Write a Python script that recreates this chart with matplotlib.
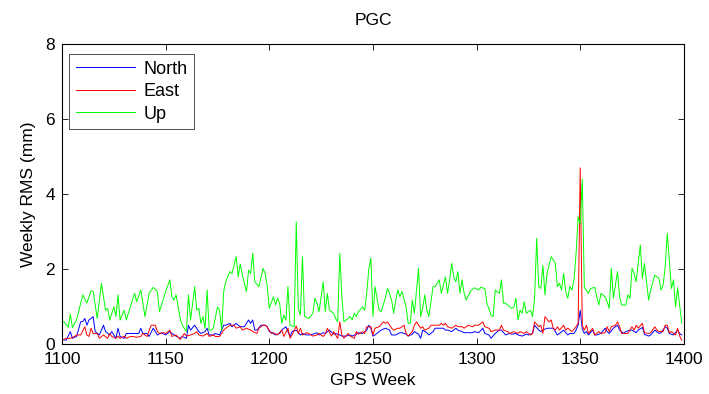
import matplotlib
matplotlib.use('Agg')
import matplotlib.pyplot as plt

plt.rcParams['font.family'] = ['Liberation Sans', 'DejaVu Sans']

# Up component (week, rms mm)
up_week = [1100, 1101, 1103, 1104, 1105, 1107, 1110, 1112, 1114, 1115, 1117, 1119, 1121, 1122, 1123,
           1125, 1126, 1127, 1128, 1130, 1131, 1134, 1135, 1136, 1138, 1140, 1142, 1144, 1146, 1147,
           1148, 1150, 1152, 1153, 1154, 1155, 1157, 1158, 1160, 1161, 1162, 1164, 1165, 1166, 1167,
           1168, 1169, 1170, 1171, 1172, 1173, 1175, 1176, 1177, 1178, 1179, 1181, 1182, 1184, 1185,
           1186, 1187, 1189, 1190, 1191, 1192, 1193, 1195, 1197, 1198, 1199, 1200, 1202, 1203, 1204,
           1205, 1206, 1207, 1208, 1209, 1210, 1212, 1213, 1214, 1215, 1216, 1217, 1219, 1221, 1222,
           1223, 1224, 1226, 1227, 1228, 1229, 1231, 1232, 1233, 1234, 1235, 1236, 1238, 1239, 1240,
           1241, 1242, 1243, 1245, 1246, 1247, 1248, 1249, 1250, 1251, 1253, 1254, 1255, 1256, 1257,
           1258, 1259, 1260, 1261, 1262, 1263, 1264, 1266, 1267, 1268, 1269, 1270, 1272, 1273, 1274,
           1275, 1276, 1277, 1279, 1280, 1281, 1282, 1283, 1285, 1286, 1287, 1288, 1289, 1290, 1291,
           1292, 1293, 1294, 1295, 1297, 1298, 1299, 1301, 1302, 1304, 1305, 1307, 1308, 1309, 1311,
           1312, 1313, 1314, 1316, 1317, 1318, 1319, 1320, 1321, 1322, 1323, 1324, 1326, 1327, 1328,
           1329, 1330, 1331, 1332, 1333, 1334, 1335, 1336, 1338, 1339, 1340, 1341, 1342, 1343, 1344,
           1345, 1346, 1347, 1348, 1349, 1350, 1351, 1352, 1353, 1354, 1355, 1357, 1358, 1359, 1360,
           1362, 1363, 1364, 1365, 1366, 1368, 1369, 1370, 1371, 1372, 1373, 1374, 1375, 1376, 1377,
           1379, 1380, 1381, 1382, 1383, 1384, 1386, 1387, 1388, 1389, 1390, 1391, 1392, 1393, 1394,
           1395, 1396, 1397, 1399]
up_rms = [0.6, 0.59, 0.44, 0.8, 0.44, 0.64, 1.31, 1.09, 1.42, 1.4, 0.68, 1.62, 0.9, 0.95, 0.64,
          0.99, 0.73, 1.31, 0.64, 0.9, 0.64, 1.17, 1.35, 1.13, 1.44, 0.73, 1.35, 1.51, 1.4, 0.86,
          1.04, 1.4, 1.71, 1.26, 1.17, 1.31, 0.68, 0.5, 0.33, 1.31, 0.64, 1.53, 0.9, 0.95, 0.55,
          0.73, 0.42, 1.44, 0.37, 0.37, 0.42, 0.99, 0.9, 0.37, 1.4, 1.66, 1.93, 1.88, 2.33, 1.79,
          2.13, 1.84, 1.4, 1.97, 1.88, 2.42, 1.66, 1.53, 2.02, 1.88, 1.53, 0.95, 1.26, 1.04, 1.22,
          1.09, 0.55, 0.77, 0.64, 1.53, 0.5, 0.46, 3.26, 0.95, 0.77, 2.33, 0.73, 0.68, 0.82, 1.22,
          1.09, 0.86, 1.66, 0.86, 1.35, 0.9, 0.82, 0.68, 0.59, 2.42, 1.26, 0.59, 0.68, 0.73, 0.64,
          0.82, 0.73, 0.86, 0.99, 0.9, 1.35, 2.0, 2.3, 0.73, 1.53, 0.9, 0.86, 1.04, 1.22, 1.48,
          1.35, 1.17, 0.82, 1.17, 1.44, 1.26, 1.4, 0.99, 0.55, 0.55, 1.17, 0.82, 2.02, 0.73, 0.95,
          1.31, 0.9, 0.73, 1.53, 1.53, 1.62, 1.71, 1.35, 1.79, 1.35, 1.71, 2.15, 1.79, 1.66, 1.93,
          1.35, 1.71, 1.35, 1.17, 1.4, 1.46, 1.5, 1.44, 1.51, 1.48, 1.09, 0.77, 0.73, 1.44, 1.35,
          1.71, 1.09, 1.09, 0.99, 0.95, 0.99, 1.22, 0.64, 0.9, 0.82, 1.13, 0.82, 0.9, 0.73, 1.22,
          2.82, 1.53, 1.48, 2.1, 1.31, 1.88, 2.1, 2.33, 2.15, 1.53, 1.62, 1.44, 1.88, 1.4, 1.22,
          1.53, 1.44, 1.71, 2.4, 3.4, 3.2, 4.4, 1.5, 1.44, 1.35, 1.48, 1.51, 1.26, 1.04, 1.35,
          1.26, 1.13, 0.95, 2.02, 1.22, 1.93, 1.26, 1.04, 1.04, 1.04, 1.31, 1.22, 2.02, 1.88, 1.66,
          2.64, 1.75, 2.15, 1.66, 1.17, 1.44, 1.84, 1.79, 1.75, 1.44, 1.57, 2.06, 2.95, 2.24, 1.48,
          1.71, 0.99, 1.5, 0.55]

# North component
north_week = [1100, 1102, 1104, 1105, 1107, 1109, 1110, 1111, 1112, 1113, 1114, 1115, 1116, 1118, 1119,
              1120, 1121, 1123, 1124, 1126, 1127, 1128, 1130, 1131, 1134, 1137, 1138, 1139, 1141, 1142,
              1144, 1145, 1146, 1148, 1150, 1152, 1153, 1155, 1157, 1158, 1160, 1161, 1162, 1164, 1166,
              1167, 1169, 1170, 1171, 1173, 1174, 1176, 1178, 1179, 1181, 1182, 1184, 1185, 1186, 1188,
              1190, 1191, 1192, 1193, 1194, 1196, 1198, 1199, 1200, 1202, 1203, 1205, 1206, 1208, 1210,
              1211, 1213, 1215, 1216, 1218, 1219, 1221, 1223, 1224, 1226, 1227, 1229, 1231, 1232, 1234,
              1235, 1237, 1239, 1240, 1242, 1243, 1245, 1247, 1248, 1249, 1250, 1251, 1253, 1254, 1256,
              1258, 1259, 1261, 1263, 1264, 1266, 1267, 1269, 1270, 1272, 1273, 1274, 1276, 1277, 1279,
              1280, 1282, 1284, 1285, 1286, 1288, 1290, 1291, 1293, 1294, 1296, 1298, 1299, 1301, 1303,
              1304, 1306, 1307, 1309, 1311, 1312, 1314, 1316, 1317, 1319, 1320, 1322, 1324, 1325, 1327,
              1328, 1330, 1331, 1332, 1334, 1336, 1337, 1339, 1340, 1342, 1344, 1345, 1347, 1348, 1349,
              1350, 1351, 1352, 1353, 1354, 1356, 1357, 1358, 1360, 1362, 1363, 1364, 1366, 1368, 1369,
              1371, 1372, 1374, 1375, 1377, 1378, 1380, 1381, 1383, 1384, 1386, 1388, 1389, 1391, 1392,
              1393, 1395, 1397, 1398, 1399]
north_rms = [0.12, 0.1, 0.33, 0.15, 0.2, 0.59, 0.6, 0.68, 0.5, 0.64, 0.68, 0.73, 0.33, 0.24, 0.37,
             0.5, 0.33, 0.24, 0.33, 0.15, 0.42, 0.2, 0.15, 0.28, 0.28, 0.28, 0.42, 0.28, 0.28, 0.2,
             0.42, 0.33, 0.24, 0.3, 0.24, 0.33, 0.28, 0.21, 0.15, 0.2, 0.15, 0.5, 0.37, 0.5, 0.33,
             0.28, 0.33, 0.42, 0.24, 0.24, 0.28, 0.24, 0.5, 0.5, 0.55, 0.46, 0.55, 0.5, 0.46, 0.46,
             0.64, 0.55, 0.64, 0.37, 0.37, 0.5, 0.5, 0.46, 0.33, 0.28, 0.24, 0.28, 0.37, 0.46, 0.2,
             0.33, 0.37, 0.24, 0.28, 0.24, 0.24, 0.26, 0.3, 0.24, 0.3, 0.28, 0.37, 0.26, 0.28, 0.24,
             0.21, 0.21, 0.24, 0.21, 0.26, 0.3, 0.28, 0.37, 0.5, 0.42, 0.21, 0.24, 0.33, 0.37, 0.42,
             0.37, 0.24, 0.24, 0.3, 0.3, 0.26, 0.21, 0.26, 0.33, 0.26, 0.15, 0.37, 0.3, 0.24, 0.33,
             0.42, 0.42, 0.42, 0.37, 0.37, 0.33, 0.42, 0.37, 0.33, 0.3, 0.3, 0.3, 0.33, 0.3, 0.42,
             0.28, 0.24, 0.15, 0.28, 0.37, 0.37, 0.24, 0.28, 0.26, 0.28, 0.24, 0.21, 0.26, 0.24, 0.28,
             0.5, 0.37, 0.33, 0.37, 0.42, 0.42, 0.42, 0.24, 0.28, 0.37, 0.24, 0.28, 0.28, 0.37, 0.5,
             0.9, 0.4, 0.28, 0.33, 0.24, 0.37, 0.24, 0.24, 0.28, 0.42, 0.33, 0.28, 0.42, 0.5, 0.37,
             0.28, 0.33, 0.37, 0.37, 0.3, 0.37, 0.44, 0.26, 0.21, 0.24, 0.37, 0.28, 0.3, 0.46, 0.42,
             0.28, 0.24, 0.37, 0.28, 0.24]

# East component
east_week = [1100, 1102, 1104, 1106, 1107, 1109, 1111, 1112, 1113, 1114, 1115, 1117, 1118, 1120, 1122,
             1123, 1124, 1126, 1127, 1128, 1130, 1131, 1133, 1134, 1136, 1138, 1139, 1141, 1143, 1145,
             1146, 1147, 1149, 1150, 1152, 1153, 1155, 1157, 1159, 1160, 1162, 1164, 1165, 1166, 1168,
             1170, 1171, 1173, 1174, 1176, 1178, 1179, 1181, 1183, 1184, 1186, 1187, 1189, 1191, 1192,
             1194, 1195, 1197, 1198, 1199, 1201, 1202, 1204, 1206, 1207, 1209, 1210, 1211, 1213, 1214,
             1215, 1216, 1218, 1219, 1221, 1223, 1224, 1226, 1227, 1228, 1230, 1231, 1233, 1234, 1235,
             1236, 1238, 1239, 1241, 1242, 1243, 1245, 1246, 1247, 1249, 1250, 1251, 1253, 1255, 1256,
             1257, 1259, 1260, 1262, 1263, 1265, 1266, 1267, 1269, 1270, 1271, 1273, 1274, 1275, 1277,
             1278, 1280, 1282, 1283, 1284, 1285, 1286, 1288, 1290, 1291, 1293, 1294, 1296, 1298, 1299,
             1301, 1303, 1304, 1306, 1307, 1309, 1311, 1312, 1313, 1315, 1316, 1318, 1320, 1321, 1323,
             1324, 1326, 1327, 1328, 1330, 1331, 1332, 1333, 1335, 1336, 1337, 1338, 1339, 1340, 1342,
             1343, 1344, 1346, 1348, 1349, 1350, 1351, 1352, 1353, 1354, 1356, 1357, 1358, 1359, 1360,
             1362, 1363, 1364, 1365, 1367, 1368, 1369, 1370, 1372, 1373, 1375, 1376, 1377, 1378, 1380,
             1381, 1383, 1384, 1386, 1387, 1388, 1390, 1391, 1392, 1393, 1394, 1396, 1397, 1398, 1399]
east_rms = [0.1, 0.15, 0.15, 0.2, 0.24, 0.24, 0.46, 0.24, 0.2, 0.42, 0.28, 0.28, 0.15, 0.24, 0.15,
            0.28, 0.2, 0.15, 0.21, 0.15, 0.21, 0.15, 0.2, 0.2, 0.18, 0.2, 0.28, 0.2, 0.5, 0.5,
            0.33, 0.28, 0.3, 0.28, 0.37, 0.2, 0.24, 0.12, 0.28, 0.21, 0.24, 0.28, 0.33, 0.24, 0.21,
            0.28, 0.2, 0.24, 0.2, 0.2, 0.37, 0.42, 0.5, 0.5, 0.42, 0.46, 0.37, 0.42, 0.37, 0.33,
            0.28, 0.42, 0.5, 0.5, 0.45, 0.28, 0.3, 0.24, 0.37, 0.2, 0.42, 0.15, 0.24, 0.48, 0.28,
            0.42, 0.24, 0.3, 0.28, 0.21, 0.24, 0.28, 0.2, 0.26, 0.42, 0.21, 0.33, 0.15, 0.59, 0.24,
            0.15, 0.28, 0.21, 0.15, 0.33, 0.26, 0.33, 0.28, 0.46, 0.46, 0.24, 0.42, 0.46, 0.59, 0.55,
            0.59, 0.42, 0.37, 0.42, 0.42, 0.5, 0.28, 0.21, 0.33, 0.5, 0.59, 0.42, 0.46, 0.37, 0.42,
            0.5, 0.5, 0.5, 0.55, 0.5, 0.55, 0.46, 0.42, 0.5, 0.46, 0.46, 0.42, 0.5, 0.46, 0.5,
            0.5, 0.59, 0.46, 0.42, 0.33, 0.37, 0.37, 0.5, 0.37, 0.33, 0.28, 0.33, 0.28, 0.33, 0.28,
            0.33, 0.24, 0.28, 0.59, 0.46, 0.5, 0.28, 0.73, 0.59, 0.64, 0.42, 0.37, 0.46, 0.37, 0.5,
            0.37, 0.42, 0.33, 0.46, 0.56, 4.7, 0.5, 0.37, 0.5, 0.28, 0.42, 0.24, 0.28, 0.33, 0.28,
            0.3, 0.46, 0.33, 0.46, 0.5, 0.59, 0.46, 0.28, 0.28, 0.28, 0.46, 0.37, 0.5, 0.42, 0.55,
            0.3, 0.28, 0.3, 0.46, 0.37, 0.33, 0.33, 0.5, 0.5, 0.3, 0.33, 0.24, 0.42, 0.21, 0.1]

fig = plt.figure(figsize=(7.09, 3.94), dpi=100)
ax = fig.add_axes([0.0875, 0.127, 0.877, 0.761])

ax.plot(north_week, north_rms, color='b', linewidth=0.7, label='North')
ax.plot(east_week, east_rms, color='r', linewidth=0.7, label='East')
ax.plot(up_week, up_rms, color='#00ff00', linewidth=0.7, label='Up')

ax.set_xlim(1100, 1400)
ax.set_ylim(0, 8)
ax.set_xticks(range(1100, 1401, 50))
ax.set_yticks([0, 2, 4, 6, 8])
ax.tick_params(direction='in', top=True, right=True, length=4, width=0.6, labelsize=12.5)
ax.tick_params(axis='x', pad=6)
ax.tick_params(axis='y', pad=5)
for s in ax.spines.values():
    s.set_linewidth(0.8)

ax.set_title('PGC', fontsize=12.5, pad=14)
ax.set_xlabel('GPS Week', fontsize=12.5, labelpad=4)
ax.set_ylabel('Weekly RMS (mm)', fontsize=12.5, labelpad=7)

leg = ax.legend(loc='upper left', fontsize=13, fancybox=False, edgecolor='k',
                handlelength=3.3, borderpad=0.35, labelspacing=0.3, handletextpad=0.45,
                borderaxespad=0.4, bbox_to_anchor=(0.0, 0.99))
leg.get_frame().set_linewidth(0.6)

plt.savefig('out.png', dpi=100)
